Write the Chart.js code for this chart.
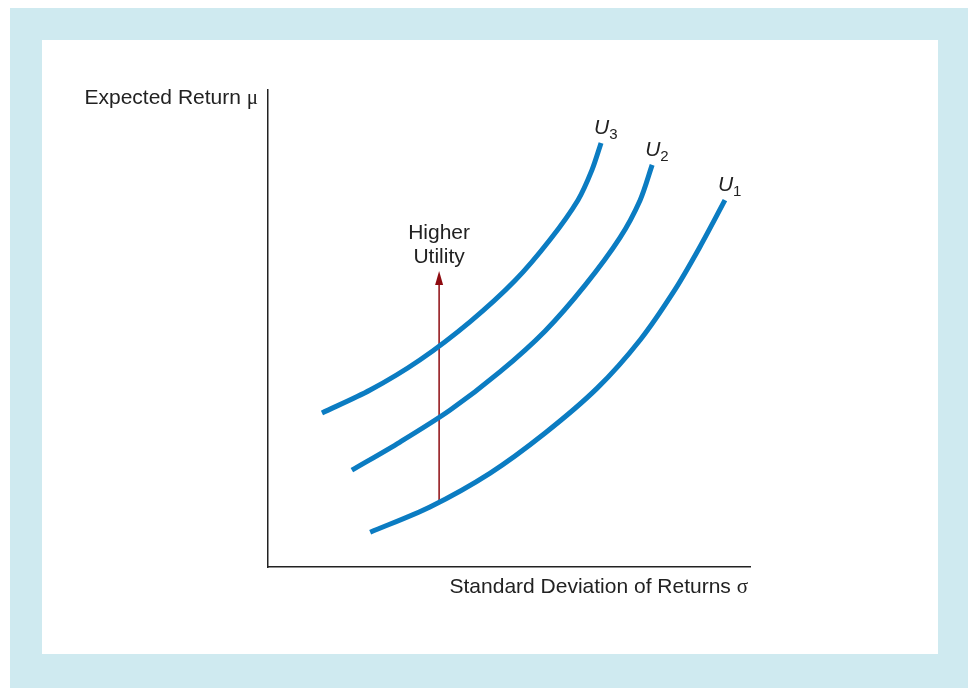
<!DOCTYPE html>
<html>
<head>
<meta charset="utf-8">
<script src="https://cdn.jsdelivr.net/npm/chart.js@4"></script>
<style>
  body { margin: 0; background: #fff; }
  .frame { position: absolute; left: 10px; top: 8px; width: 958px; height: 680px; background: #cfeaf0; }
  .panel { position: absolute; left: 32px; top: 32px; width: 896px; height: 614px; background: #fff; }
  canvas { display: block; }
</style>
</head>
<body>
<div class="frame">
  <div class="panel">
    <canvas id="utilityChart" width="896" height="614"></canvas>
  </div>
</div>
<script>
// indifference curves, x = sigma, y = mu (axis units 0..100)
const u1X = [21.2, 33.6, 46.1, 57.5, 68.3, 77.2, 84.4, 89.6, 94.8]
const u1Y = [7.3, 12.6, 19.7, 28.1, 37.5, 47.6, 58.1, 67.1, 76.9]
const u2X = [17.4, 27.4, 37.8, 48.1, 57.5, 65.8, 73.0, 77.2, 79.7]
const u2Y = [20.3, 26.2, 32.9, 40.9, 49.5, 59.1, 69.0, 76.9, 84.3]
const u3X = [11.2, 21.2, 31.5, 41.9, 51.2, 58.5, 64.3, 67.2, 69.1]
const u3Y = [32.3, 37.1, 43.4, 51.4, 60.0, 68.6, 76.9, 83.2, 88.9]
const arrowX = [35.5, 35.5]
const arrowY = [13.6, 61.2]
const curveNames = ["1", "2", "3"]

const toPoints = (xs, ys) => xs.map((x, i) => ({ x: x, y: ys[i] }))

const curveBlue = "#0b7cc2"
const arrowRed = "#8e0b10"
const sans = "Liberation Sans, Arial, Helvetica, sans-serif"
const serif = "Liberation Serif, Times New Roman, serif"

// labels, arrow head
const annotations = {
  id: "annotations",
  afterDatasetsDraw(chart) {
    const { ctx, chartArea, scales } = chart
    const xs = scales.x
    const ys = scales.y
    ctx.save()
    ctx.fillStyle = "#222"
    ctx.textBaseline = "alphabetic"

    // y axis title
    ctx.font = "21px " + sans
    ctx.textAlign = "left"
    const yTitle = "Expected Return "
    const yw = ctx.measureText(yTitle).width
    ctx.font = "21px " + serif
    const muW = ctx.measureText("\u03bc").width
    let left = chartArea.left - 10 - yw - muW
    ctx.font = "21px " + sans
    ctx.fillText(yTitle, left, chartArea.top + 14)
    ctx.font = "21px " + serif
    ctx.fillText("\u03bc", left + yw, chartArea.top + 14)

    // x axis title
    ctx.font = "21px " + sans
    const xTitle = "Standard Deviation of Returns "
    const xw = ctx.measureText(xTitle).width
    ctx.font = "21px " + serif
    const sigW = ctx.measureText("\u03c3").width
    left = chartArea.right - 2 - xw - sigW
    ctx.font = "21px " + sans
    ctx.fillText(xTitle, left, chartArea.bottom + 26)
    ctx.font = "21px " + serif
    ctx.fillText("\u03c3", left + xw, chartArea.bottom + 26)

    // curve labels U1..U3 near curve ends
    const ends = [
      [u1X[u1X.length - 1], u1Y[u1Y.length - 1]],
      [u2X[u2X.length - 1], u2Y[u2Y.length - 1]],
      [u3X[u3X.length - 1], u3Y[u3Y.length - 1]],
    ]
    ends.forEach((e, i) => {
      const px = xs.getPixelForValue(e[0])
      const py = ys.getPixelForValue(e[1])
      ctx.font = "italic 21px " + sans
      ctx.textAlign = "left"
      ctx.fillText("U", px - 7, py - 9)
      const uw = ctx.measureText("U").width
      ctx.font = "15px " + sans
      ctx.fillText(curveNames[i], px - 7 + uw, py - 4)
    })

    // arrow head and caption
    const ax = xs.getPixelForValue(arrowX[1])
    const ay = ys.getPixelForValue(arrowY[1])
    ctx.fillStyle = arrowRed
    ctx.beginPath()
    ctx.moveTo(ax, ay - 4)
    ctx.lineTo(ax - 4, ay + 10)
    ctx.lineTo(ax + 4, ay + 10)
    ctx.closePath()
    ctx.fill()

    ctx.fillStyle = "#222"
    ctx.font = "21px " + sans
    ctx.textAlign = "center"
    ctx.fillText("Higher", ax, ay - 36)
    ctx.fillText("Utility", ax, ay - 12)
    ctx.restore()
  },
}

const curveStyle = {
  borderColor: curveBlue,
  borderWidth: 5,
  pointRadius: 0,
  showLine: true,
  fill: false,
  tension: 0.3,
  borderCapStyle: "butt",
}

new Chart(document.getElementById("utilityChart"), {
  type: "scatter",
  data: {
    datasets: [
      { label: "U1", data: toPoints(u1X, u1Y), ...curveStyle },
      { label: "U2", data: toPoints(u2X, u2Y), ...curveStyle },
      { label: "U3", data: toPoints(u3X, u3Y), ...curveStyle },
      {
        label: "Higher Utility",
        data: toPoints(arrowX, arrowY.map((v, i) => (i === 1 ? v - 1.5 : v))),
        borderColor: arrowRed,
        borderWidth: 1.5,
        pointRadius: 0,
        showLine: true,
        fill: false,
      },
    ],
  },
  options: {
    responsive: false,
    animation: false,
    clip: false,
    layout: { padding: { left: 226, right: 188, top: 50, bottom: 87 } },
    plugins: { legend: { display: false }, tooltip: { enabled: false } },
    scales: {
      x: {
        type: "linear",
        min: 0,
        max: 100,
        ticks: { display: false },
        grid: { display: false, drawTicks: false },
        border: { display: true, color: "#222", width: 1.5 },
      },
      y: {
        type: "linear",
        min: 0,
        max: 100,
        ticks: { display: false },
        grid: { display: false, drawTicks: false },
        border: { display: true, color: "#222", width: 1.5 },
      },
    },
  },
  plugins: [annotations],
})
</script>
</body>
</html>
